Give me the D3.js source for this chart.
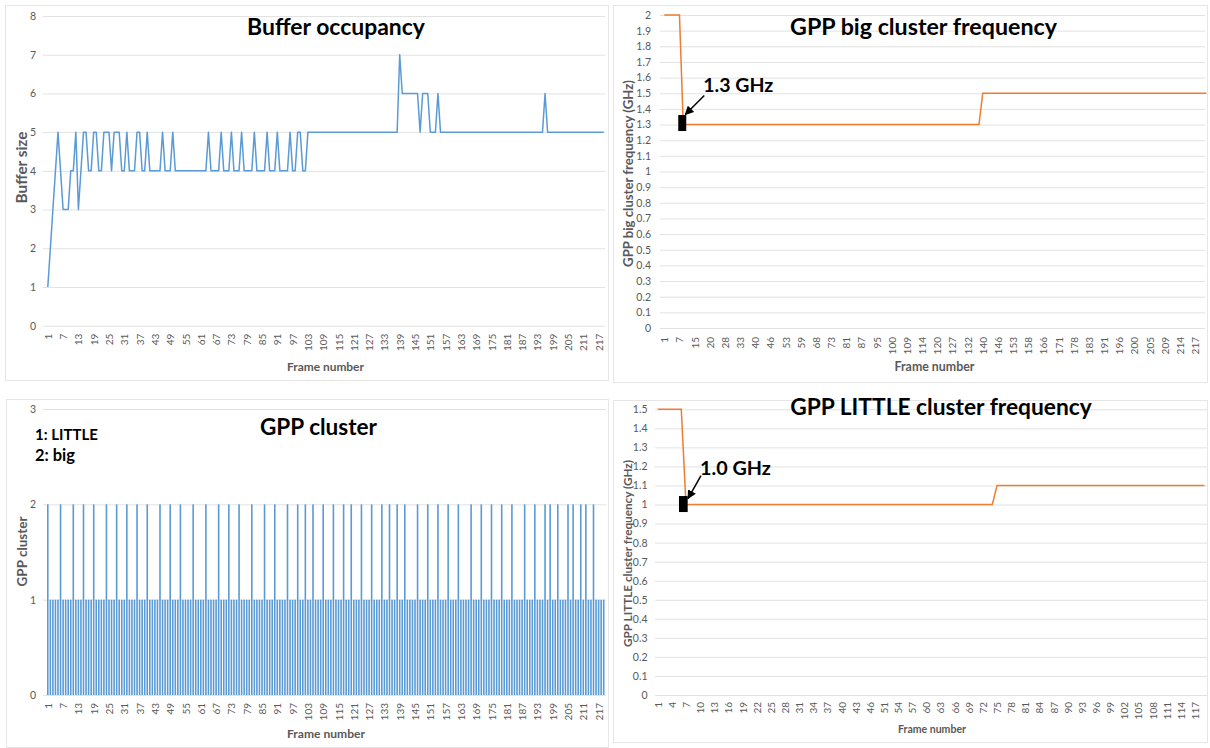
<!DOCTYPE html>
<html>
<head>
<meta charset="utf-8">
<script src="https://cdn.jsdelivr.net/npm/d3@7"></script>
<style>
  html, body { margin: 0; padding: 0; background: #ffffff; }
  svg { display: block; }
</style>
</head>
<body>
<svg id="chart" width="1210" height="748"></svg>
<script>
// ---------------------------------------------------------------------------
// Data
// ---------------------------------------------------------------------------

// Frames 1..219 shared by the buffer-occupancy and GPP-cluster charts
const frameNumbers = d3.range(1, 220);
const frameTickLabels = [1, 7, 13, 19, 25, 31, 37, 43, 49, 55, 61, 67, 73, 79, 85, 91, 97, 103,
  109, 115, 121, 127, 133, 139, 145, 151, 157, 163, 169, 175, 181, 187, 193, 199, 205, 211, 217];

// Buffer size per frame
const bufferSize = [
  1, 2, 3, 4, 5, 4, 3, 3, 3, 4, 4, 5, 3, 4, 5, 5, 4, 4, 5, 5,        // 1-20
  4, 4, 5, 5, 5, 4, 5, 5, 5, 4, 4, 5, 4, 4, 4, 5, 5, 4, 4, 5,        // 21-40
  4, 4, 4, 4, 4, 5, 4, 4, 4, 5, 4, 4, 4, 4, 4, 4, 4, 4, 4, 4,        // 41-60
  4, 4, 4, 5, 4, 4, 4, 4, 5, 4, 4, 4, 5, 4, 4, 4, 5, 4, 4, 4,        // 61-80
  4, 5, 4, 4, 4, 4, 5, 4, 4, 4, 5, 4, 4, 4, 4, 5, 4, 4, 5, 5,        // 81-100
  4, 4, 5, 5, 5, 5, 5, 5, 5, 5, 5, 5, 5, 5, 5, 5, 5, 5, 5, 5,        // 101-120
  5, 5, 5, 5, 5, 5, 5, 5, 5, 5, 5, 5, 5, 5, 5, 5, 5, 5, 7, 6,        // 121-140
  6, 6, 6, 6, 6, 6, 5, 6, 6, 6, 5, 5, 5, 6, 5, 5, 5, 5, 5, 5,        // 141-160
  5, 5, 5, 5, 5, 5, 5, 5, 5, 5, 5, 5, 5, 5, 5, 5, 5, 5, 5, 5,        // 161-180
  5, 5, 5, 5, 5, 5, 5, 5, 5, 5, 5, 5, 5, 5, 5, 6, 5, 5, 5, 5,        // 181-200
  5, 5, 5, 5, 5, 5, 5, 5, 5, 5, 5, 5, 5, 5, 5, 5, 5, 5, 5            // 201-219
];
const bufferYTicks = [0, 1, 2, 3, 4, 5, 6, 7, 8];

// GPP cluster used per frame (1: LITTLE, 2: big)
const gppCluster = [
  2, 1, 1, 1, 1, 2, 1, 1, 1, 1, 2, 1, 1, 1, 2, 1, 1, 1, 2, 1,        // 1-20
  1, 1, 1, 2, 1, 1, 1, 2, 1, 1, 1, 2, 1, 1, 1, 2, 1, 1, 1, 2,        // 21-40
  1, 1, 1, 1, 2, 1, 1, 1, 2, 1, 1, 1, 2, 1, 1, 1, 1, 2, 1, 1,        // 41-60
  1, 1, 2, 1, 1, 1, 1, 2, 1, 1, 1, 2, 1, 1, 1, 2, 1, 1, 1, 1,        // 61-80
  2, 1, 1, 1, 1, 2, 1, 1, 1, 2, 1, 1, 1, 1, 2, 1, 1, 1, 2, 1,        // 81-100
  1, 2, 1, 1, 2, 1, 1, 1, 2, 1, 1, 1, 2, 1, 1, 1, 2, 1, 1, 2,        // 101-120
  1, 1, 1, 2, 1, 1, 1, 2, 1, 1, 1, 2, 1, 1, 2, 1, 1, 2, 1, 1,        // 121-140
  2, 1, 1, 1, 1, 2, 1, 1, 1, 2, 1, 1, 1, 2, 1, 1, 1, 2, 1, 1,        // 141-160
  1, 2, 1, 1, 1, 1, 2, 1, 1, 1, 2, 1, 1, 1, 2, 1, 1, 1, 2, 1,        // 161-180
  1, 1, 2, 1, 1, 1, 1, 2, 1, 1, 1, 2, 1, 1, 1, 2, 1, 2, 1, 1,        // 181-200
  2, 1, 1, 1, 2, 1, 2, 1, 1, 2, 1, 2, 1, 1, 2, 1, 1, 1, 1            // 201-219
];
const clusterYTicks = [0, 1, 2, 3];

// GPP big cluster frequency (GHz), one entry per big-cluster sample
const bigSamples = d3.range(144);
const bigFreq = [
  2, 2, 2, 2, 2, 1.3, 1.3, 1.3, 1.3, 1.3, 1.3, 1.3, 1.3, 1.3, 1.3, 1.3, 1.3, 1.3, 1.3, 1.3,
  1.3, 1.3, 1.3, 1.3, 1.3, 1.3, 1.3, 1.3, 1.3, 1.3, 1.3, 1.3, 1.3, 1.3, 1.3, 1.3, 1.3, 1.3, 1.3, 1.3,
  1.3, 1.3, 1.3, 1.3, 1.3, 1.3, 1.3, 1.3, 1.3, 1.3, 1.3, 1.3, 1.3, 1.3, 1.3, 1.3, 1.3, 1.3, 1.3, 1.3,
  1.3, 1.3, 1.3, 1.3, 1.3, 1.3, 1.3, 1.3, 1.3, 1.3, 1.3, 1.3, 1.3, 1.3, 1.3, 1.3, 1.3, 1.3, 1.3, 1.3,
  1.3, 1.3, 1.3, 1.3, 1.5, 1.5, 1.5, 1.5, 1.5, 1.5, 1.5, 1.5, 1.5, 1.5, 1.5, 1.5, 1.5, 1.5, 1.5, 1.5,
  1.5, 1.5, 1.5, 1.5, 1.5, 1.5, 1.5, 1.5, 1.5, 1.5, 1.5, 1.5, 1.5, 1.5, 1.5, 1.5, 1.5, 1.5, 1.5, 1.5,
  1.5, 1.5, 1.5, 1.5, 1.5, 1.5, 1.5, 1.5, 1.5, 1.5, 1.5, 1.5, 1.5, 1.5, 1.5, 1.5, 1.5, 1.5, 1.5, 1.5,
  1.5, 1.5, 1.5, 1.5
];
// frame numbers printed under every 4th big-cluster sample
const bigTickLabels = [1, 7, 15, 20, 28, 33, 40, 46, 53, 59, 68, 73, 81, 87, 95, 100, 109, 114,
  120, 127, 132, 140, 146, 153, 158, 166, 171, 178, 183, 191, 196, 200, 205, 209, 214, 217];
const bigYTicks = [0, 0.1, 0.2, 0.3, 0.4, 0.5, 0.6, 0.7, 0.8, 0.9, 1, 1.1, 1.2, 1.3, 1.4, 1.5,
  1.6, 1.7, 1.8, 1.9, 2];

// GPP LITTLE cluster frequency (GHz), one entry per LITTLE-cluster sample
const littleSamples = d3.range(117);
const littleFreq = [
  1.5, 1.5, 1.5, 1.5, 1.5, 1.5, 1, 1, 1, 1, 1, 1, 1, 1, 1, 1, 1, 1, 1, 1,
  1, 1, 1, 1, 1, 1, 1, 1, 1, 1, 1, 1, 1, 1, 1, 1, 1, 1, 1, 1,
  1, 1, 1, 1, 1, 1, 1, 1, 1, 1, 1, 1, 1, 1, 1, 1, 1, 1, 1, 1,
  1, 1, 1, 1, 1, 1, 1, 1, 1, 1, 1, 1, 1.1, 1.1, 1.1, 1.1, 1.1, 1.1, 1.1, 1.1,
  1.1, 1.1, 1.1, 1.1, 1.1, 1.1, 1.1, 1.1, 1.1, 1.1, 1.1, 1.1, 1.1, 1.1, 1.1, 1.1, 1.1, 1.1, 1.1, 1.1,
  1.1, 1.1, 1.1, 1.1, 1.1, 1.1, 1.1, 1.1, 1.1, 1.1, 1.1, 1.1, 1.1, 1.1, 1.1, 1.1, 1.1
];
// frame numbers printed under every 3rd LITTLE-cluster sample
const littleTickLabels = [1, 4, 7, 10, 13, 16, 19, 22, 25, 28, 31, 34, 37, 40, 43, 46, 51, 54,
  57, 60, 63, 66, 69, 72, 75, 78, 81, 84, 87, 90, 93, 96, 99, 102, 105, 108, 111, 114, 117];
const littleYTicks = [0, 0.1, 0.2, 0.3, 0.4, 0.5, 0.6, 0.7, 0.8, 0.9, 1, 1.1, 1.2, 1.3, 1.4, 1.5];

// ---------------------------------------------------------------------------
// Styling
// ---------------------------------------------------------------------------
const FONT = "Lato, 'Open Sans', 'DejaVu Sans', sans-serif";
const BLUE = "#5B9BD5";
const ORANGE = "#ED7D31";
const GRID = "#E2E2E2";
const AXIS_TEXT = "#595959";
const FRAME = "#E6E6E6";

const svg = d3.select("#chart").attr("font-family", FONT);

svg.append("defs").append("marker")
  .attr("id", "arrowHead")
  .attr("viewBox", "0 0 10 10")
  .attr("refX", 9).attr("refY", 5)
  .attr("markerWidth", 6).attr("markerHeight", 6)
  .attr("orient", "auto")
  .append("path").attr("d", "M0,0L10,5L0,10z").attr("fill", "#000");

// scale a text element's font size so that it spans the wanted length
function fitLength(sel, length) {
  const w = sel.node().getComputedTextLength();
  sel.attr("font-size", +sel.attr("font-size") * length / w);
  return sel;
}

// panel outlines
const panelBoxes = [
  { x: 5.5, y: 5.5, w: 603, h: 375 },
  { x: 613.5, y: 5.5, w: 594, h: 377 },
  { x: 6.5, y: 399.5, w: 602, h: 348 },
  { x: 613.5, y: 400.5, w: 594, h: 342 }
];
svg.append("g").selectAll("rect").data(panelBoxes).join("rect")
  .attr("x", d => d.x).attr("y", d => d.y).attr("width", d => d.w).attr("height", d => d.h)
  .attr("fill", "none").attr("stroke", FRAME).attr("stroke-width", 1);

// gridlines + y tick labels
function yAxis(g, y, ticks, gridX0, gridX1, labelX, fmt) {
  g.append("g").attr("transform", `translate(${gridX0},0)`)
    .call(d3.axisLeft(y).tickValues(ticks).tickSize(-(gridX1 - gridX0)).tickFormat(""))
    .call(s => s.select(".domain").remove())
    .call(s => s.selectAll("line").attr("stroke", GRID).attr("stroke-width", 1));
  g.append("g").attr("transform", `translate(${labelX},0)`)
    .call(d3.axisLeft(y).tickValues(ticks).tickSize(0).tickPadding(0).tickFormat(fmt))
    .call(s => s.select(".domain").remove())
    .call(s => s.selectAll("text")
      .attr("font-family", FONT).attr("font-size", 10.5).attr("fill", AXIS_TEXT));
}

// rotated category labels under the plot
function xAxis(g, x, keys, labels, axisY, pad) {
  const labelOf = new Map(keys.map((k, i) => [k, labels[i]]));
  g.append("g").attr("transform", `translate(0,${axisY})`)
    .call(d3.axisBottom(x).tickValues(keys).tickSize(0).tickPadding(0).tickFormat(d => labelOf.get(d)))
    .call(s => s.select(".domain").remove())
    .call(s => s.selectAll("text")
      .attr("transform", "rotate(-90)")
      .attr("text-anchor", "end")
      .attr("x", -pad).attr("y", 0).attr("dy", "0.35em")
      .attr("font-family", FONT).attr("font-size", 10).attr("fill", AXIS_TEXT));
}

function chartTitle(g, text, cx, baseline, length) {
  fitLength(g.append("text")
    .attr("x", cx).attr("y", baseline).attr("text-anchor", "middle")
    .attr("font-weight", 700).attr("font-size", 24).attr("fill", "#000")
    .text(text), length);
}

function yTitle(g, text, cx, cy, length) {
  fitLength(g.append("text")
    .attr("transform", `translate(${cx},${cy}) rotate(-90)`)
    .attr("text-anchor", "middle").attr("dy", "0.35em")
    .attr("font-weight", 700).attr("font-size", 13).attr("fill", AXIS_TEXT)
    .text(text), length);
}

function xTitle(g, text, cx, baseline, length) {
  fitLength(g.append("text")
    .attr("x", cx).attr("y", baseline).attr("text-anchor", "middle")
    .attr("font-weight", 700).attr("font-size", 13).attr("fill", AXIS_TEXT)
    .text(text), length);
}

// black marker + arrow + label pointing at a sample
function callout(g, px, py, text, opts) {
  g.append("rect")
    .attr("x", px + opts.rect[0]).attr("y", py + opts.rect[1])
    .attr("width", opts.rect[2]).attr("height", opts.rect[3])
    .attr("fill", "#000");
  g.append("line")
    .attr("x1", px + opts.from[0]).attr("y1", py + opts.from[1])
    .attr("x2", px + opts.to[0]).attr("y2", py + opts.to[1])
    .attr("stroke", "#000").attr("stroke-width", 1.5)
    .attr("marker-end", "url(#arrowHead)");
  fitLength(g.append("text")
    .attr("x", px + opts.text[0]).attr("y", py + opts.text[1])
    .attr("font-weight", 700).attr("font-size", 22).attr("fill", "#000")
    .text(text), opts.length);
}

// ---------------------------------------------------------------------------
// Buffer occupancy (top left)
// ---------------------------------------------------------------------------
{
  const g = svg.append("g");
  const x = d3.scalePoint().domain(frameNumbers).range([47.8, 47.8 + 218 * 2.55]);
  const y = d3.scaleLinear().domain([0, 8]).range([325.7, 16]);
  yAxis(g, y, bufferYTicks, 43, 605, 36, d3.format("d"));
  xAxis(g, x, frameTickLabels, frameTickLabels.map(String), 325.7, 8);
  g.append("path")
    .datum(bufferSize)
    .attr("fill", "none").attr("stroke", BLUE).attr("stroke-width", 1.5)
    .attr("stroke-linejoin", "round")
    .attr("d", d3.line().x((d, i) => x(frameNumbers[i])).y(d => y(d)));
  chartTitle(g, "Buffer occupancy", 336, 35, 178);
  yTitle(g, "Buffer size", 21.5, 167.5, 72);
  xTitle(g, "Frame number", 325.5, 371, 77);
}

// ---------------------------------------------------------------------------
// GPP big cluster frequency (top right)
// ---------------------------------------------------------------------------
{
  const g = svg.append("g");
  const x = d3.scalePoint().domain(bigSamples).range([664.3, 664.3 + 143 * 3.791]);
  const y = d3.scaleLinear().domain([0, 2]).range([328, 15]);
  yAxis(g, y, bigYTicks, 660, 1205, 651, d3.format(".1~f"));
  const tickKeys = bigTickLabels.map((_, i) => bigSamples[i * 4]);
  xAxis(g, x, tickKeys, bigTickLabels.map(String), 328, 9);
  g.append("path")
    .datum(bigFreq)
    .attr("fill", "none").attr("stroke", ORANGE).attr("stroke-width", 1.5)
    .attr("d", d3.line().x((d, i) => x(bigSamples[i])).y(d => y(d)));
  chartTitle(g, "GPP big cluster frequency", 923.5, 35, 267);
  yTitle(g, "GPP big cluster frequency (GHz)", 628.5, 173.5, 187);
  xTitle(g, "Frame number", 934.5, 370.5, 80);
  const k = 5;
  callout(g, x(bigSamples[k]), y(bigFreq[k]), "1.3 GHz", {
    rect: [-5, -9.5, 8, 16], from: [21, -29], to: [2, -10], text: [20, -33], length: 70
  });
}

// ---------------------------------------------------------------------------
// GPP cluster (bottom left)
// ---------------------------------------------------------------------------
{
  const g = svg.append("g");
  const x = d3.scalePoint().domain(frameNumbers).range([47.8, 47.8 + 218 * 2.55]);
  const y = d3.scaleLinear().domain([0, 3]).range([695, 409]);
  yAxis(g, y, clusterYTicks, 43, 606, 36, d3.format("d"));
  xAxis(g, x, frameTickLabels, frameTickLabels.map(String), 695, 8);
  const barW = 1.6;
  g.append("g").selectAll("rect").data(gppCluster).join("rect")
    .attr("x", (d, i) => x(frameNumbers[i]) - barW / 2)
    .attr("width", barW)
    .attr("y", d => y(d))
    .attr("height", d => y(0) - y(d))
    .attr("fill", BLUE);
  chartTitle(g, "GPP cluster", 318.5, 435, 117);
  yTitle(g, "GPP cluster", 22, 551.5, 70);
  xTitle(g, "Frame number", 326, 738, 78);
  fitLength(g.append("text").attr("x", 35).attr("y", 440)
    .attr("font-weight", 700).attr("font-size", 18).attr("fill", "#000")
    .text("1: LITTLE"), 63);
  fitLength(g.append("text").attr("x", 35).attr("y", 461)
    .attr("font-weight", 700).attr("font-size", 18).attr("fill", "#000")
    .text("2: big"), 40);
}

// ---------------------------------------------------------------------------
// GPP LITTLE cluster frequency (bottom right)
// ---------------------------------------------------------------------------
{
  const g = svg.append("g");
  const x = d3.scalePoint().domain(littleSamples).range([657.7, 657.7 + 116 * 4.713]);
  const y = d3.scaleLinear().domain([0, 1.5]).range([695, 409.3]);
  yAxis(g, y, littleYTicks, 655, 1207, 647.5, d3.format(".1~f"));
  const tickKeys = littleTickLabels.map((_, i) => littleSamples[i * 3]);
  xAxis(g, x, tickKeys, littleTickLabels.map(String), 695, 7);
  g.append("path")
    .datum(littleFreq)
    .attr("fill", "none").attr("stroke", ORANGE).attr("stroke-width", 1.5)
    .attr("d", d3.line().x((d, i) => x(littleSamples[i])).y(d => y(d)));
  chartTitle(g, "GPP LITTLE cluster frequency", 941, 415, 302);
  yTitle(g, "GPP LITTLE cluster frequency (GHz)", 627.5, 553.5, 187);
  xTitle(g, "Frame number", 932, 733, 68);
  const k = 6;
  callout(g, x(littleSamples[k]), y(littleFreq[k]), "1.0 GHz", {
    rect: [-7, -8.5, 8.7, 16], from: [15, -29], to: [2, -6], text: [14, -29.5], length: 71
  });
}
</script>
</body>
</html>
